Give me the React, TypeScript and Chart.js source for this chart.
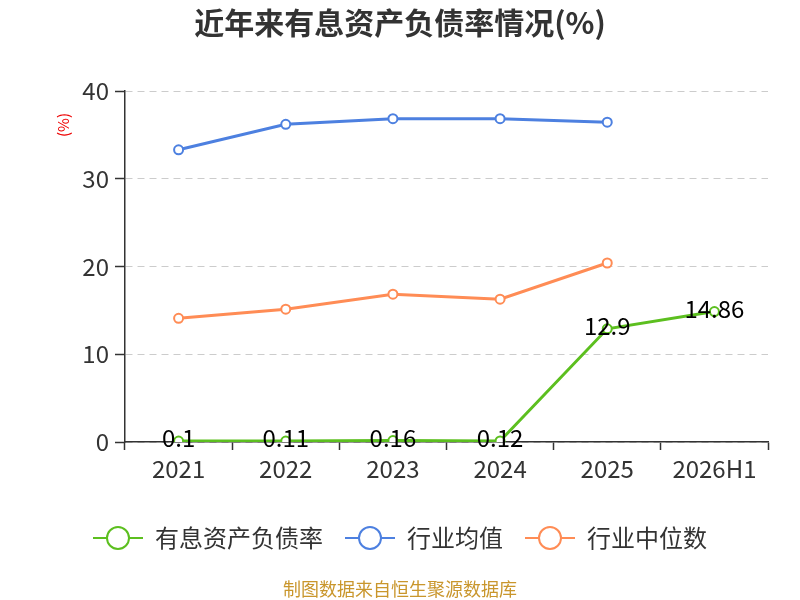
import { useEffect, useRef } from "react";
import { Chart, registerables } from "chart.js";

Chart.register(...registerables);

const categories = ["2021", "2022", "2023", "2024", "2025", "2026H1"];
const debtRatio = [0.1, 0.11, 0.16, 0.12, 12.9, 14.86];
const industryAvg = [33.3, 36.2, 36.85, 36.85, 36.45, null];
const industryMedian = [14.1, 15.13, 16.85, 16.27, 20.4, null];
const seriesNames = ["有息资产负债率", "行业均值", "行业中位数"];
const seriesColors = ["#5cbf1f", "#4d80e0", "#ff8c55"];

const FONT = '"Noto Sans CJK SC", "Noto Sans", sans-serif';

// legend marker: short line with a hollow circle in the middle
function makeMarker(color: string) {
  const c = document.createElement("canvas");
  c.width = 50;
  c.height = 26;
  const g = c.getContext("2d")!;
  g.strokeStyle = color;
  g.lineWidth = 2;
  g.beginPath();
  g.moveTo(0, 13);
  g.lineTo(50, 13);
  g.stroke();
  g.fillStyle = "#fff";
  g.beginPath();
  g.arc(25, 13, 11, 0, Math.PI * 2);
  g.fill();
  g.stroke();
  return c;
}

const decorPlugin = {
  id: "decor",
  afterDraw(chart: Chart) {
    const ctx = chart.ctx;
    ctx.save();
    ctx.textAlign = "center";
    ctx.textBaseline = "middle";
    ctx.fillStyle = "#333";
    ctx.font = `bold 30px ${FONT}`;
    ctx.fillText("近年来有息资产负债率情况(%)", 400, 23);

    ctx.fillStyle = "#c9962c";
    ctx.font = `18px ${FONT}`;
    ctx.fillText("制图数据来自恒生聚源数据库", 400, 589);

    ctx.translate(63, 125);
    ctx.rotate(-Math.PI / 2);
    ctx.fillStyle = "#e00";
    ctx.font = `15px ${FONT}`;
    ctx.fillText("(%)", 0, 0);
    ctx.restore();
  },
};

const valueLabelPlugin = {
  id: "valueLabels",
  afterDatasetsDraw(chart: Chart) {
    const ctx = chart.ctx;
    const meta = chart.getDatasetMeta(0);
    ctx.save();
    ctx.font = `24px ${FONT}`;
    ctx.fillStyle = "#000";
    ctx.textAlign = "center";
    ctx.textBaseline = "middle";
    meta.data.forEach((pt, i) => {
      ctx.fillText(String(debtRatio[i]), pt.x, pt.y - 3);
    });
    ctx.restore();
  },
};

export default function App() {
  const canvasRef = useRef<HTMLCanvasElement>(null);

  useEffect(() => {
    const canvas = canvasRef.current;
    if (!canvas) return;
    const markers = seriesColors.map(makeMarker);

    const makeSet = (i: number, data: (number | null)[]) => ({
      label: seriesNames[i],
      data,
      yAxisID: "y",
      borderColor: seriesColors[i],
      backgroundColor: "#fff",
      pointBackgroundColor: "#fff",
      pointBorderColor: seriesColors[i],
      pointBorderWidth: 2,
      pointRadius: 4.5,
      borderWidth: 3,
      tension: 0,
    });

    const chart = new Chart(canvas, {
      type: "line",
      data: {
        labels: categories,
        datasets: [
          makeSet(0, debtRatio),
          makeSet(1, industryAvg),
          makeSet(2, industryMedian),
        ],
      },
      options: {
        animation: false,
        responsive: true,
        maintainAspectRatio: false,
        layout: { padding: { top: 91, right: 0, bottom: 40, left: 0 } },
        plugins: {
          title: { display: false },
          tooltip: { enabled: false },
          legend: {
            position: "bottom",
            labels: {
              usePointStyle: true,
              pointStyleWidth: 50,
              padding: 22,
              color: "#333",
              font: { family: FONT, size: 24 },
              generateLabels: (ch: Chart) =>
                Chart.defaults.plugins.legend.labels
                  .generateLabels(ch)
                  .map((item, i) => ({ ...item, pointStyle: markers[i] })),
            },
          },
        },
        scales: {
          x: {
            offset: true,
            grid: {
              display: true,
              drawOnChartArea: false,
              drawTicks: true,
              offset: true,
              tickLength: 8,
              tickColor: "#333",
              tickWidth: 1.5,
            },
            border: { color: "#333", width: 1.5 },
            ticks: {
              color: "#333",
              padding: 4,
              font: { family: FONT, size: 24 },
              maxRotation: 0,
            },
            afterFit: (scale: any) => {
              scale.height = 62;
            },
          },
          y: {
            min: 0,
            max: 40,
            ticks: {
              stepSize: 10,
              color: "#333",
              padding: 6,
              font: { family: FONT, size: 24 },
            },
            grid: {
              color: "#ccc",
              lineWidth: 1,
              tickLength: 10,
              tickColor: "#333",
              tickWidth: 1.5,
              tickBorderDash: [],
            },
            border: { color: "#333", width: 1.5, dash: [7, 5] },
            afterFit: (scale: any) => {
              scale.width = 125;
            },
          },
          // empty right-hand spacer so the plot ends at x=768
          spacer: {
            type: "linear",
            position: "right",
            display: true,
            grid: { display: false },
            border: { display: false },
            ticks: { display: false },
            afterFit: (scale: any) => {
              scale.width = 32;
            },
          },
        },
      },
      plugins: [decorPlugin, valueLabelPlugin],
    });

    return () => chart.destroy();
  }, []);

  return (
    <div
      style={{
        position: "fixed",
        left: 0,
        top: 0,
        width: 800,
        height: 600,
        background: "#fff",
      }}
    >
      <canvas ref={canvasRef}></canvas>
    </div>
  );
}
